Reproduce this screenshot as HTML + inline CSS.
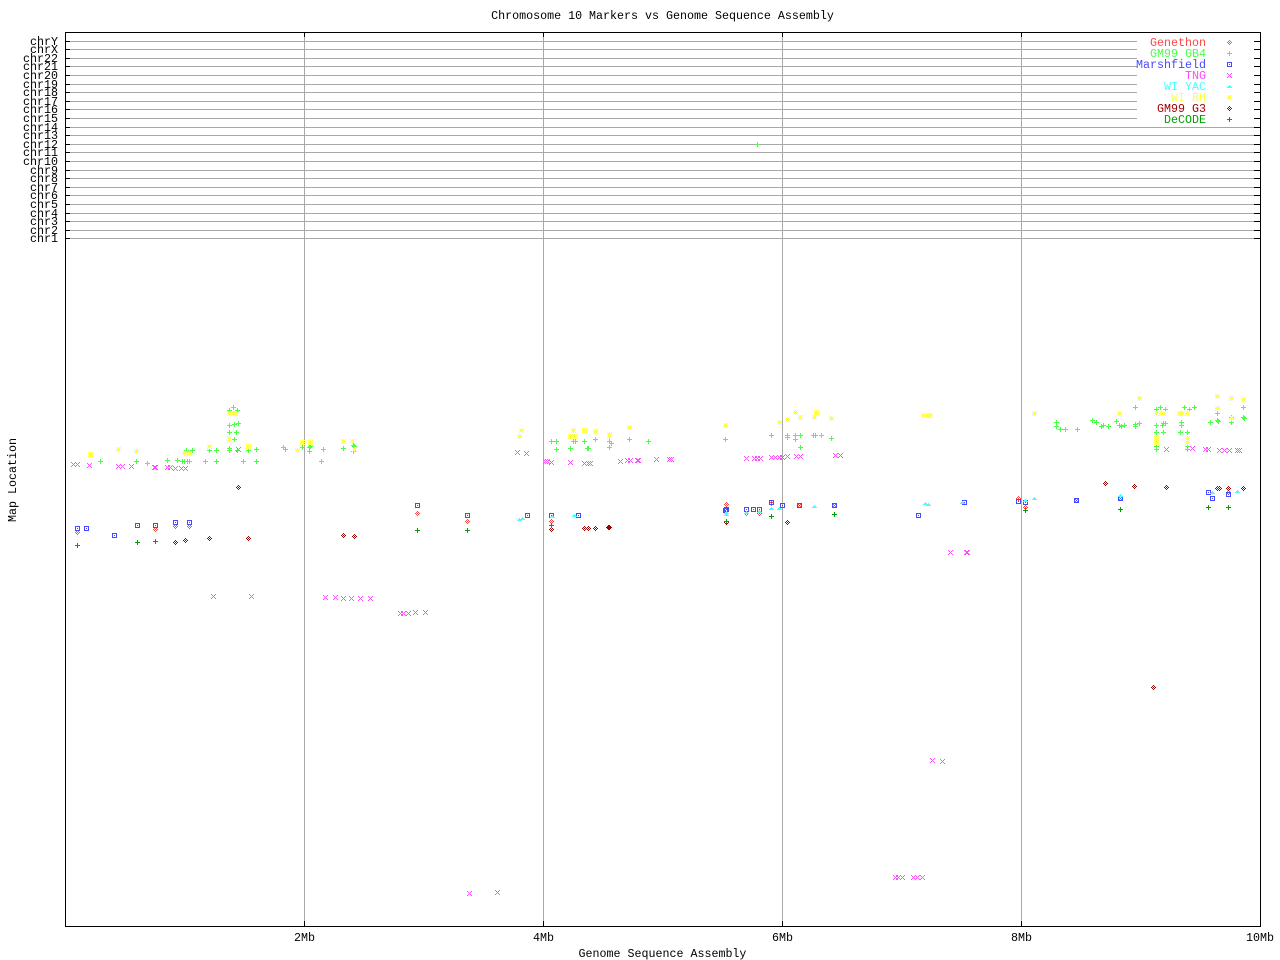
<!DOCTYPE html>
<html>
<head>
<meta charset="utf-8">
<style>
html,body{margin:0;padding:0;background:#fff;}
svg{display:block;}
text{font-family:"Liberation Mono","DejaVu Sans Mono",monospace;font-size:11.67px;fill:#000;}
</style>
</head>
<body>
<svg width="1280" height="960" viewBox="0 0 1280 960" xmlns="http://www.w3.org/2000/svg" shape-rendering="crispEdges">
<defs>
<path id="pl" d="M-2 0h5v1h-5z M0 -2h1v5h-1z"/>
<path id="xx" d="M-2 -2h1v1h-1z M-1 -1h1v1h-1z M0 0h1v1h-1z M1 1h1v1h-1z M2 2h1v1h-1z M2 -2h1v1h-1z M1 -1h1v1h-1z M-1 1h1v1h-1z M-2 2h1v1h-1z"/>
<path id="sq" d="M-2 -2h5v1h-5z M-2 2h5v1h-5z M-2 -1h1v3h-1z M2 -1h1v3h-1z M0 0h1v1h-1z"/>
<path id="dm" d="M0 -2h1v1h-1z M-1 -1h1v1h-1z M1 -1h1v1h-1z M-2 0h1v1h-1z M0 0h1v1h-1z M2 0h1v1h-1z M-1 1h1v1h-1z M1 1h1v1h-1z M0 2h1v1h-1z"/>
<path id="tr" d="M0 -1h1v1h-1z M-1 0h3v1h-3z M-2 1h5v1h-5z"/>
<path id="st" d="M-2 0h5v1h-5z M0 -2h1v5h-1z M-2 -2h1v1h-1z M-1 -1h1v1h-1z M1 1h1v1h-1z M2 2h1v1h-1z M2 -2h1v1h-1z M1 -1h1v1h-1z M-1 1h1v1h-1z M-2 2h1v1h-1z"/>
</defs>

<!-- title -->
<text x="662.5" y="19" text-anchor="middle">Chromosome 10 Markers vs Genome Sequence Assembly</text>

<!-- vertical gridlines -->
<g fill="#a8a8a8">
<rect x="304" y="33" width="1" height="893"/>
<rect x="543" y="33" width="1" height="893"/>
<rect x="782" y="33" width="1" height="893"/>
<rect x="1021" y="33" width="1" height="893"/>
</g>

<!-- chromosome lines -->
<g fill="#a8a8a8">
<rect x="70" y="41" width="1184" height="1"/>
<rect x="70" y="49" width="1184" height="1"/>
<rect x="70" y="58" width="1184" height="1"/>
<rect x="70" y="66" width="1184" height="1"/>
<rect x="70" y="75" width="1184" height="1"/>
<rect x="70" y="84" width="1184" height="1"/>
<rect x="70" y="92" width="1184" height="1"/>
<rect x="70" y="101" width="1184" height="1"/>
<rect x="70" y="109" width="1184" height="1"/>
<rect x="70" y="118" width="1184" height="1"/>
<rect x="70" y="127" width="1184" height="1"/>
<rect x="70" y="135" width="1184" height="1"/>
<rect x="70" y="144" width="1184" height="1"/>
<rect x="70" y="152" width="1184" height="1"/>
<rect x="70" y="161" width="1184" height="1"/>
<rect x="70" y="170" width="1184" height="1"/>
<rect x="70" y="178" width="1184" height="1"/>
<rect x="70" y="187" width="1184" height="1"/>
<rect x="70" y="195" width="1184" height="1"/>
<rect x="70" y="204" width="1184" height="1"/>
<rect x="70" y="213" width="1184" height="1"/>
<rect x="70" y="221" width="1184" height="1"/>
<rect x="70" y="230" width="1184" height="1"/>
<rect x="70" y="238" width="1184" height="1"/>
</g>

<!-- ticks -->
<g fill="#000">
<rect x="65" y="41" width="5" height="1"/><rect x="1254" y="41" width="6" height="1"/>
<rect x="65" y="49" width="5" height="1"/><rect x="1254" y="49" width="6" height="1"/>
<rect x="65" y="58" width="5" height="1"/><rect x="1254" y="58" width="6" height="1"/>
<rect x="65" y="66" width="5" height="1"/><rect x="1254" y="66" width="6" height="1"/>
<rect x="65" y="75" width="5" height="1"/><rect x="1254" y="75" width="6" height="1"/>
<rect x="65" y="84" width="5" height="1"/><rect x="1254" y="84" width="6" height="1"/>
<rect x="65" y="92" width="5" height="1"/><rect x="1254" y="92" width="6" height="1"/>
<rect x="65" y="101" width="5" height="1"/><rect x="1254" y="101" width="6" height="1"/>
<rect x="65" y="109" width="5" height="1"/><rect x="1254" y="109" width="6" height="1"/>
<rect x="65" y="118" width="5" height="1"/><rect x="1254" y="118" width="6" height="1"/>
<rect x="65" y="127" width="5" height="1"/><rect x="1254" y="127" width="6" height="1"/>
<rect x="65" y="135" width="5" height="1"/><rect x="1254" y="135" width="6" height="1"/>
<rect x="65" y="144" width="5" height="1"/><rect x="1254" y="144" width="6" height="1"/>
<rect x="65" y="152" width="5" height="1"/><rect x="1254" y="152" width="6" height="1"/>
<rect x="65" y="161" width="5" height="1"/><rect x="1254" y="161" width="6" height="1"/>
<rect x="65" y="170" width="5" height="1"/><rect x="1254" y="170" width="6" height="1"/>
<rect x="65" y="178" width="5" height="1"/><rect x="1254" y="178" width="6" height="1"/>
<rect x="65" y="187" width="5" height="1"/><rect x="1254" y="187" width="6" height="1"/>
<rect x="65" y="195" width="5" height="1"/><rect x="1254" y="195" width="6" height="1"/>
<rect x="65" y="204" width="5" height="1"/><rect x="1254" y="204" width="6" height="1"/>
<rect x="65" y="213" width="5" height="1"/><rect x="1254" y="213" width="6" height="1"/>
<rect x="65" y="221" width="5" height="1"/><rect x="1254" y="221" width="6" height="1"/>
<rect x="65" y="230" width="5" height="1"/><rect x="1254" y="230" width="6" height="1"/>
<rect x="65" y="238" width="5" height="1"/><rect x="1254" y="238" width="6" height="1"/>
<rect x="304" y="33" width="1" height="4"/><rect x="304" y="921" width="1" height="5"/>
<rect x="543" y="33" width="1" height="4"/><rect x="543" y="921" width="1" height="5"/>
<rect x="782" y="33" width="1" height="4"/><rect x="782" y="921" width="1" height="5"/>
<rect x="1021" y="33" width="1" height="4"/><rect x="1021" y="921" width="1" height="5"/>
</g>

<!-- legend background -->
<rect x="1137" y="37" width="117" height="86" fill="#fff"/>

<!-- plot frame -->
<rect x="65.5" y="32.5" width="1195" height="894" fill="none" stroke="#000" stroke-width="1"/>

<!-- chromosome labels -->
<g text-anchor="end">
<text x="58" y="45">chrY</text>
<text x="58" y="53">chrX</text>
<text x="58" y="62">chr22</text>
<text x="58" y="70">chr21</text>
<text x="58" y="79">chr20</text>
<text x="58" y="88">chr19</text>
<text x="58" y="96">chr18</text>
<text x="58" y="105">chr17</text>
<text x="58" y="113">chr16</text>
<text x="58" y="122">chr15</text>
<text x="58" y="131">chr14</text>
<text x="58" y="139">chr13</text>
<text x="58" y="148">chr12</text>
<text x="58" y="156">chr11</text>
<text x="58" y="165">chr10</text>
<text x="58" y="174">chr9</text>
<text x="58" y="182">chr8</text>
<text x="58" y="191">chr7</text>
<text x="58" y="199">chr6</text>
<text x="58" y="208">chr5</text>
<text x="58" y="217">chr4</text>
<text x="58" y="225">chr3</text>
<text x="58" y="234">chr2</text>
<text x="58" y="242">chr1</text>
</g>

<!-- x tick labels -->
<g text-anchor="middle">
<text x="304.5" y="941">2Mb</text>
<text x="543.5" y="941">4Mb</text>
<text x="782.5" y="941">6Mb</text>
<text x="1021.5" y="941">8Mb</text>
<text x="1260" y="941">10Mb</text>
<text x="662.5" y="957">Genome Sequence Assembly</text>
<text transform="translate(16,480) rotate(-90)">Map Location</text>
</g>

<!-- legend -->
<g text-anchor="end">
<text x="1206" y="46" style="fill:#ff4848">Genethon</text>
<text x="1206" y="57" style="fill:#48ff48">GM99 GB4</text>
<text x="1206" y="68" style="fill:#4848ff">Marshfield</text>
<text x="1206" y="79" style="fill:#ff48ff">TNG</text>
<text x="1206" y="90" style="fill:#48ffff">WI YAC</text>
<text x="1206" y="101" style="fill:#ffff48">WI RH</text>
<text x="1206" y="112" style="fill:#a00000">GM99 G3</text>
<text x="1206" y="123" style="fill:#00a000">DeCODE</text>
</g>
<use href="#dm" x="1229" y="42" fill="#ff4848"/>
<use href="#pl" x="1229" y="53" fill="#48ff48"/>
<use href="#sq" x="1229" y="64" fill="#4848ff"/>
<use href="#xx" x="1229" y="75" fill="#ff48ff"/>
<use href="#tr" x="1229" y="86" fill="#48ffff"/>
<use href="#st" x="1229" y="97" fill="#ffff48"/>
<use href="#dm" x="1229" y="108" fill="#a00000"/>
<use href="#pl" x="1229" y="119" fill="#00a000"/>

<!-- Genethon -->
<g fill="#ff4848">
<use href="#dm" x="77" y="532"/><use href="#dm" x="155" y="529"/><use href="#dm" x="175" y="526"/><use href="#dm" x="189" y="526"/>
<use href="#dm" x="417" y="513"/><use href="#dm" x="467" y="521"/><use href="#dm" x="551" y="521"/><use href="#dm" x="726" y="504"/>
<use href="#dm" x="746" y="513"/><use href="#dm" x="759" y="513"/><use href="#dm" x="1018" y="498"/><use href="#dm" x="1025" y="507"/>
<use href="#dm" x="1076" y="500"/><use href="#dm" x="1120" y="498"/><use href="#dm" x="1228" y="492"/><use href="#dm" x="771" y="503"/>
<use href="#dm" x="799" y="505"/><use href="#dm" x="834" y="505"/>
</g>

<!-- GM99 GB4 -->
<g fill="#48ff48">
<use href="#pl" x="100" y="461"/><use href="#pl" x="136" y="461"/><use href="#pl" x="147" y="463"/><use href="#pl" x="167" y="460"/>
<use href="#pl" x="177" y="460"/><use href="#pl" x="182" y="461"/><use href="#pl" x="184" y="461"/><use href="#pl" x="187" y="461"/>
<use href="#pl" x="189" y="461"/><use href="#pl" x="186" y="450"/><use href="#pl" x="192" y="450"/><use href="#pl" x="205" y="461"/>
<use href="#pl" x="209" y="450"/><use href="#pl" x="216" y="450"/><use href="#pl" x="216" y="461"/><use href="#pl" x="229" y="410"/>
<use href="#pl" x="233" y="407"/><use href="#pl" x="237" y="410"/><use href="#pl" x="229" y="425"/><use href="#pl" x="234" y="424"/>
<use href="#pl" x="238" y="423"/><use href="#pl" x="229" y="432"/><use href="#pl" x="236" y="432"/><use href="#pl" x="234" y="439"/>
<use href="#pl" x="229" y="448"/><use href="#pl" x="229" y="450"/><use href="#pl" x="237" y="450"/><use href="#pl" x="243" y="461"/>
<use href="#pl" x="248" y="450"/><use href="#pl" x="256" y="449"/><use href="#pl" x="256" y="461"/><use href="#pl" x="283" y="447"/>
<use href="#pl" x="285" y="449"/><use href="#pl" x="302" y="447"/><use href="#pl" x="309" y="447"/><use href="#pl" x="310" y="446"/>
<use href="#pl" x="309" y="451"/><use href="#pl" x="323" y="449"/><use href="#pl" x="321" y="461"/><use href="#pl" x="343" y="448"/>
<use href="#pl" x="353" y="445"/><use href="#pl" x="354" y="446"/><use href="#pl" x="353" y="451"/>
<use href="#pl" x="551" y="441"/><use href="#pl" x="556" y="441"/><use href="#pl" x="556" y="449"/><use href="#pl" x="570" y="448"/>
<use href="#pl" x="573" y="441"/><use href="#pl" x="575" y="441"/><use href="#pl" x="584" y="441"/><use href="#pl" x="587" y="448"/>
<use href="#pl" x="588" y="448"/><use href="#pl" x="595" y="439"/><use href="#pl" x="609" y="441"/><use href="#pl" x="611" y="443"/>
<use href="#pl" x="609" y="447"/><use href="#pl" x="629" y="439"/><use href="#pl" x="648" y="441"/><use href="#pl" x="725" y="439"/>
<use href="#pl" x="771" y="435"/><use href="#pl" x="787" y="435"/><use href="#pl" x="787" y="437"/><use href="#pl" x="795" y="435"/>
<use href="#pl" x="795" y="439"/><use href="#pl" x="800" y="435"/><use href="#pl" x="800" y="447"/><use href="#pl" x="813" y="435"/>
<use href="#pl" x="815" y="435"/><use href="#pl" x="821" y="435"/><use href="#pl" x="831" y="438"/>
<use href="#pl" x="757" y="144"/>
<use href="#pl" x="1056" y="422"/><use href="#pl" x="1056" y="426"/><use href="#pl" x="1060" y="429"/><use href="#pl" x="1065" y="429"/>
<use href="#pl" x="1077" y="429"/><use href="#pl" x="1092" y="420"/><use href="#pl" x="1096" y="422"/><use href="#pl" x="1101" y="426"/>
<use href="#pl" x="1103" y="425"/><use href="#pl" x="1108" y="426"/><use href="#pl" x="1116" y="421"/><use href="#pl" x="1119" y="425"/>
<use href="#pl" x="1121" y="426"/><use href="#pl" x="1124" y="425"/><use href="#pl" x="1135" y="407"/><use href="#pl" x="1135" y="424"/>
<use href="#pl" x="1135" y="426"/><use href="#pl" x="1139" y="423"/><use href="#pl" x="1156" y="409"/><use href="#pl" x="1160" y="407"/>
<use href="#pl" x="1165" y="409"/><use href="#pl" x="1156" y="425"/><use href="#pl" x="1162" y="425"/><use href="#pl" x="1165" y="423"/>
<use href="#pl" x="1163" y="423"/><use href="#pl" x="1156" y="432"/><use href="#pl" x="1163" y="432"/><use href="#pl" x="1156" y="446"/>
<use href="#pl" x="1156" y="449"/><use href="#pl" x="1181" y="422"/><use href="#pl" x="1181" y="425"/><use href="#pl" x="1180" y="432"/>
<use href="#pl" x="1187" y="432"/><use href="#pl" x="1184" y="407"/><use href="#pl" x="1189" y="409"/><use href="#pl" x="1194" y="407"/>
<use href="#pl" x="1187" y="446"/><use href="#pl" x="1187" y="449"/><use href="#pl" x="1210" y="422"/><use href="#pl" x="1217" y="413"/>
<use href="#pl" x="1217" y="420"/><use href="#pl" x="1218" y="421"/><use href="#pl" x="1231" y="417"/><use href="#pl" x="1231" y="422"/>
<use href="#pl" x="1243" y="407"/><use href="#pl" x="1243" y="417"/><use href="#pl" x="1244" y="418"/>
</g>

<!-- Marshfield -->
<g fill="#4848ff">
<use href="#sq" x="77" y="528"/><use href="#sq" x="86" y="528"/><use href="#sq" x="114" y="535"/><use href="#sq" x="137" y="525"/>
<use href="#sq" x="155" y="525"/><use href="#sq" x="175" y="522"/><use href="#sq" x="189" y="522"/><use href="#sq" x="417" y="505"/>
<use href="#sq" x="467" y="515"/><use href="#sq" x="527" y="515"/><use href="#sq" x="551" y="515"/><use href="#sq" x="578" y="515"/>
<use href="#sq" x="726" y="509"/><use href="#sq" x="725" y="510"/><use href="#sq" x="746" y="509"/><use href="#sq" x="753" y="509"/>
<use href="#sq" x="759" y="509"/><use href="#sq" x="771" y="502"/><use href="#sq" x="782" y="505"/><use href="#sq" x="799" y="505"/>
<use href="#sq" x="834" y="505"/><use href="#sq" x="918" y="515"/><use href="#sq" x="964" y="502"/><use href="#sq" x="1018" y="501"/>
<use href="#sq" x="1025" y="502"/><use href="#sq" x="1076" y="500"/><use href="#sq" x="1120" y="498"/><use href="#sq" x="1208" y="492"/>
<use href="#sq" x="1212" y="498"/><use href="#sq" x="1228" y="494"/>
</g>

<!-- TNG -->
<g fill="#ff48ff">
<use href="#xx" x="73" y="464"/><use href="#xx" x="77" y="464"/><use href="#xx" x="89" y="465"/><use href="#xx" x="118" y="466"/>
<use href="#xx" x="122" y="466"/><use href="#xx" x="131" y="466"/><use href="#xx" x="155" y="467"/><use href="#xx" x="154" y="467"/>
<use href="#xx" x="167" y="467"/><use href="#xx" x="170" y="467"/><use href="#xx" x="175" y="468"/><use href="#xx" x="181" y="468"/>
<use href="#xx" x="185" y="468"/><use href="#xx" x="238" y="449"/><use href="#xx" x="213" y="596"/><use href="#xx" x="251" y="596"/>
<use href="#xx" x="325" y="597"/><use href="#xx" x="335" y="597"/><use href="#xx" x="343" y="598"/><use href="#xx" x="351" y="598"/>
<use href="#xx" x="360" y="598"/><use href="#xx" x="370" y="598"/><use href="#xx" x="400" y="613"/><use href="#xx" x="403" y="613"/>
<use href="#xx" x="408" y="613"/><use href="#xx" x="415" y="612"/><use href="#xx" x="425" y="612"/>
<use href="#xx" x="517" y="452"/><use href="#xx" x="526" y="453"/><use href="#xx" x="545" y="461"/><use href="#xx" x="547" y="461"/>
<use href="#xx" x="551" y="462"/><use href="#xx" x="570" y="462"/><use href="#xx" x="584" y="463"/><use href="#xx" x="588" y="463"/>
<use href="#xx" x="590" y="463"/><use href="#xx" x="620" y="461"/><use href="#xx" x="627" y="460"/><use href="#xx" x="630" y="460"/>
<use href="#xx" x="638" y="460"/><use href="#xx" x="637" y="460"/><use href="#xx" x="656" y="459"/><use href="#xx" x="669" y="459"/>
<use href="#xx" x="671" y="459"/><use href="#xx" x="746" y="458"/><use href="#xx" x="754" y="458"/><use href="#xx" x="757" y="458"/>
<use href="#xx" x="760" y="458"/><use href="#xx" x="771" y="457"/><use href="#xx" x="775" y="457"/><use href="#xx" x="779" y="457"/>
<use href="#xx" x="782" y="457"/><use href="#xx" x="787" y="456"/><use href="#xx" x="796" y="456"/><use href="#xx" x="800" y="456"/>
<use href="#xx" x="835" y="455"/><use href="#xx" x="840" y="455"/>
<use href="#xx" x="1166" y="449"/><use href="#xx" x="1192" y="448"/><use href="#xx" x="1205" y="449"/><use href="#xx" x="1208" y="449"/>
<use href="#xx" x="1219" y="450"/><use href="#xx" x="1224" y="450"/><use href="#xx" x="1229" y="450"/><use href="#xx" x="1237" y="450"/>
<use href="#xx" x="1239" y="450"/><use href="#xx" x="950" y="552"/><use href="#xx" x="967" y="552"/><use href="#xx" x="966" y="552"/>
<use href="#xx" x="932" y="760"/><use href="#xx" x="942" y="761"/><use href="#xx" x="895" y="877"/><use href="#xx" x="898" y="877"/>
<use href="#xx" x="902" y="877"/><use href="#xx" x="913" y="877"/><use href="#xx" x="917" y="877"/><use href="#xx" x="922" y="877"/>
<use href="#xx" x="469" y="893"/><use href="#xx" x="497" y="892"/>
</g>

<!-- WI YAC -->
<g fill="#48ffff">
<use href="#tr" x="519" y="519"/><use href="#tr" x="522" y="518"/><use href="#tr" x="552" y="516"/><use href="#tr" x="574" y="515"/>
<use href="#tr" x="726" y="512"/><use href="#tr" x="726" y="514"/><use href="#tr" x="746" y="512"/><use href="#tr" x="759" y="511"/>
<use href="#tr" x="771" y="508"/><use href="#tr" x="779" y="508"/><use href="#tr" x="814" y="506"/><use href="#tr" x="925" y="503"/>
<use href="#tr" x="928" y="504"/><use href="#tr" x="962" y="502"/><use href="#tr" x="1025" y="500"/><use href="#tr" x="1034" y="498"/>
<use href="#tr" x="1120" y="495"/><use href="#tr" x="1212" y="492"/><use href="#tr" x="1237" y="491"/>
</g>

<!-- WI RH -->
<g fill="#ffff48">
<use href="#st" x="90" y="454"/><use href="#st" x="118" y="449"/><use href="#st" x="136" y="451"/><use href="#st" x="184" y="453"/>
<use href="#st" x="187" y="452"/><use href="#st" x="189" y="453"/><use href="#st" x="209" y="446"/><use href="#st" x="229" y="413"/>
<use href="#st" x="233" y="413"/><use href="#st" x="236" y="413"/><use href="#st" x="229" y="440"/><use href="#st" x="229" y="438"/>
<use href="#st" x="248" y="446"/><use href="#st" x="297" y="450"/><use href="#st" x="302" y="442"/><use href="#st" x="310" y="442"/>
<use href="#st" x="343" y="441"/><use href="#st" x="352" y="441"/><use href="#st" x="354" y="449"/>
<use href="#st" x="521" y="430"/><use href="#st" x="519" y="436"/><use href="#st" x="573" y="430"/><use href="#st" x="584" y="430"/>
<use href="#st" x="595" y="431"/><use href="#st" x="570" y="436"/><use href="#st" x="574" y="436"/><use href="#st" x="609" y="434"/>
<use href="#st" x="609" y="436"/><use href="#st" x="629" y="427"/><use href="#st" x="725" y="425"/><use href="#st" x="779" y="422"/>
<use href="#st" x="787" y="419"/><use href="#st" x="795" y="412"/><use href="#st" x="800" y="417"/><use href="#st" x="814" y="417"/>
<use href="#st" x="816" y="412"/><use href="#st" x="831" y="418"/>
<use href="#st" x="923" y="415"/><use href="#st" x="927" y="415"/><use href="#st" x="930" y="415"/><use href="#st" x="1034" y="413"/>
<use href="#st" x="1139" y="398"/><use href="#st" x="1119" y="413"/><use href="#st" x="1156" y="413"/><use href="#st" x="1161" y="413"/>
<use href="#st" x="1163" y="413"/><use href="#st" x="1156" y="438"/><use href="#st" x="1156" y="442"/><use href="#st" x="1179" y="413"/>
<use href="#st" x="1182" y="413"/><use href="#st" x="1187" y="413"/><use href="#st" x="1187" y="438"/><use href="#st" x="1187" y="442"/>
<use href="#st" x="1217" y="396"/><use href="#st" x="1231" y="398"/><use href="#st" x="1243" y="399"/><use href="#st" x="1217" y="408"/>
<use href="#st" x="1231" y="418"/>
</g>

<!-- GM99 G3 -->
<g fill="#a00000">
<use href="#dm" x="238" y="487"/><use href="#dm" x="175" y="542"/><use href="#dm" x="185" y="540"/><use href="#dm" x="209" y="538"/>
<use href="#dm" x="248" y="538"/><use href="#dm" x="343" y="535"/><use href="#dm" x="354" y="536"/><use href="#dm" x="551" y="529"/>
<use href="#dm" x="584" y="528"/><use href="#dm" x="588" y="528"/><use href="#dm" x="595" y="528"/><use href="#dm" x="609" y="527"/>
<use href="#dm" x="608" y="527"/><use href="#dm" x="726" y="522"/><use href="#dm" x="787" y="522"/><use href="#dm" x="1105" y="483"/>
<use href="#dm" x="1134" y="486"/><use href="#dm" x="1166" y="487"/><use href="#dm" x="1217" y="488"/><use href="#dm" x="1219" y="488"/>
<use href="#dm" x="1228" y="488"/><use href="#dm" x="1243" y="488"/><use href="#dm" x="1153" y="687"/>
</g>

<!-- DeCODE -->
<g fill="#00a000">
<use href="#pl" x="77" y="545"/><use href="#pl" x="137" y="542"/><use href="#pl" x="155" y="541"/><use href="#pl" x="417" y="530"/>
<use href="#pl" x="467" y="530"/><use href="#pl" x="551" y="525"/><use href="#pl" x="726" y="521"/><use href="#pl" x="771" y="516"/>
<use href="#pl" x="834" y="514"/><use href="#pl" x="1025" y="510"/><use href="#pl" x="1120" y="509"/><use href="#pl" x="1208" y="507"/>
<use href="#pl" x="1228" y="507"/>
</g>
</svg>
</body>
</html>
